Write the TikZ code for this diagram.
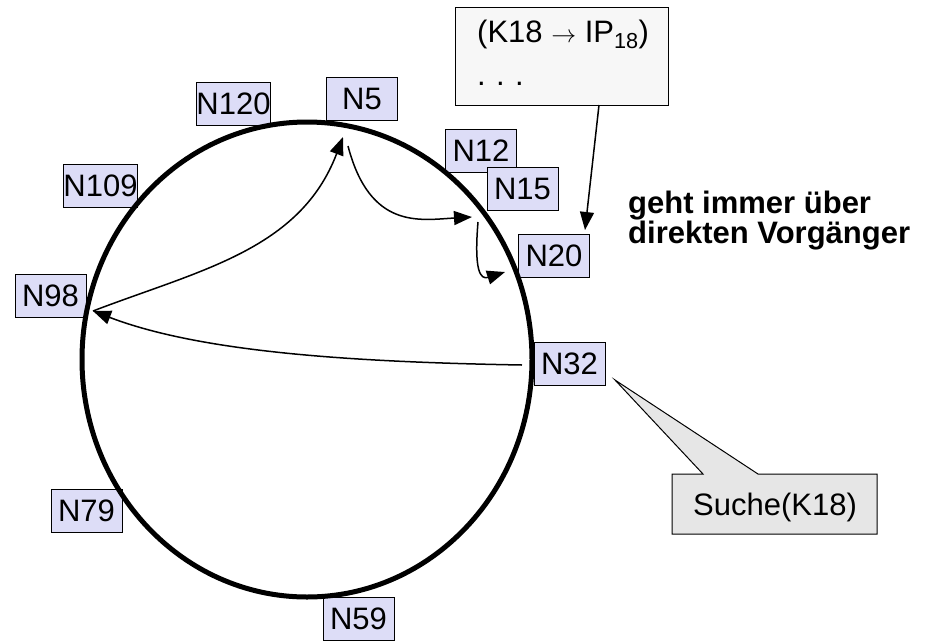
\documentclass[tikz,border=0pt]{standalone}
\usepackage{fontspec}
\setmainfont{Liberation Sans}
\usetikzlibrary{arrows.meta}
\definecolor{lav}{RGB}{221,221,247}
\definecolor{callgray}{RGB}{230,230,230}
\definecolor{boxgray}{RGB}{247,247,247}
\begin{document}
\begin{tikzpicture}[x=1pt,y=-1pt,
  lbl/.style={draw=black, line width=1pt, fill=lav, minimum width=71pt, minimum height=43pt, inner sep=0pt, font=\fontsize{31}{36}\selectfont},
  txt/.style={anchor=base west, inner sep=0pt, font=\fontsize{31}{36}\selectfont},
  btxt/.style={anchor=base west, inner sep=0pt, font=\bfseries\fontsize{31}{36}\selectfont},
  arr/.style={line width=1.5pt, -{Triangle[length=18pt,width=14pt]}}]
\useasboundingbox (0,0) rectangle (938,641);
% label boxes
\node[lbl] (n120) at (233.5,104) {N120};
\node[lbl] (n5)   at (362,99) {N5};
\node[lbl] (n12)  at (481,151) {N12};
\node[lbl] (n15)  at (522.5,188.5) {N15};
\node[lbl] (n20)  at (554,255.5) {N20};
\node[lbl] (n109) at (100.5,185.5) {N109};
\node[lbl] (n98)  at (50.5,295.5) {N98};
\node[lbl] (n32)  at (569.5,363.5) {N32};
\node[lbl] (n79)  at (86.5,510.5) {N79};
\node[lbl] (n59)  at (358.5,618.5) {N59};
% ring
\draw[line width=5pt] (307,359.5) ellipse [x radius=225pt, y radius=237.5pt];
% points on ring
\coordinate (s32) at (522,365);
\coordinate (e98) at (93,311);
\coordinate (e5) at (343,137);
\coordinate (s5) at (348,146);
\coordinate (e12) at (472,217);
\coordinate (s12) at (478,222);
\coordinate (e20) at (505,272);
\coordinate (t20) at (585,230);
% routing arrows
\draw[arr] (s32) .. controls (350,362) and (200,352) .. (e98);
\draw[arr] (e98) .. controls (200,270) and (300,250) .. (e5);
\draw[arr] (s5) .. controls (370,230) and (420,220) .. (e12);
\draw[arr] (s12) .. controls (474,270) and (480,280) .. (e20);
% table box
\node[draw, line width=1pt, fill=boxgray, anchor=north west, minimum width=213pt, minimum height=98pt, inner sep=0pt] (tab) at (455,7) {};
\node[txt] (tab1) at (477,42) {(K18 $\rightarrow$ IP\textsubscript{18})};
\node[txt] (tab2) at (477,85) {.\,\,.\,\,.};
\coordinate (tabout) at (599,105);
\draw[arr] (tabout) -- (t20);
% note
\node[btxt] (note1) at (628,213) {geht immer über};
\node[btxt] (note2) at (628,243) {direkten Vorgänger};
% callout
\draw[fill=callgray, line width=1pt] (672,474) -- (703,474) -- (615,380) -- (758,474) -- (877,474) -- (877,534) -- (672,534) -- cycle;
\node[txt] (query) at (693,515) {Suche(K18)};
\end{tikzpicture}
\end{document}
